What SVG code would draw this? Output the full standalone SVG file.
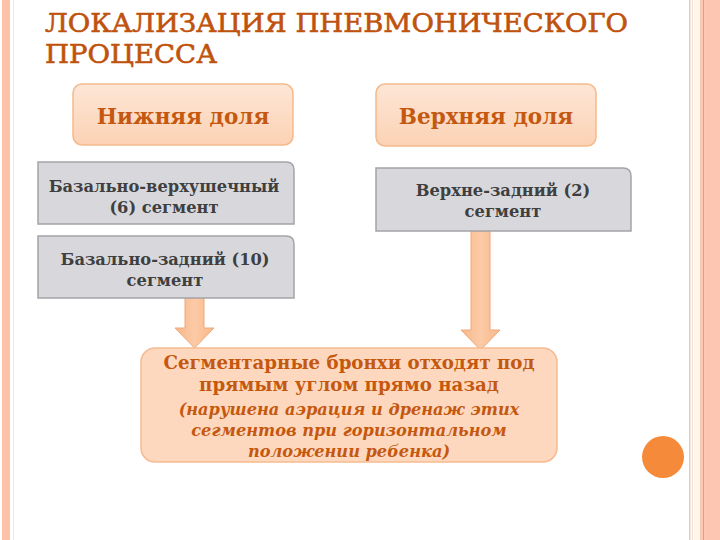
<svg xmlns="http://www.w3.org/2000/svg" width="720" height="540" viewBox="0 0 720 540">
<defs>
<linearGradient id="peach" x1="0" y1="0" x2="0" y2="1">
<stop offset="0" stop-color="#fde6d6"/>
<stop offset="1" stop-color="#fcd2b4"/>
</linearGradient>
<linearGradient id="arrowG" x1="0" y1="0" x2="1" y2="0">
<stop offset="0" stop-color="#f7b88a"/>
<stop offset="0.5" stop-color="#fccaa6"/>
<stop offset="1" stop-color="#f7b88a"/>
</linearGradient>
</defs>
<style>
.title{font-family:"DejaVu Serif","Liberation Serif",serif;font-size:26px;fill:#bf520d;stroke:#bf520d;stroke-width:0.6}
.lobe{fill:url(#peach);stroke:#f5b98c;stroke-width:1.5}
.lobet{font-family:"DejaVu Serif","Liberation Serif",serif;font-weight:bold;font-size:21.5px;fill:#c5580f;text-anchor:middle}
.seg{fill:#d8d8dc;stroke:#a4a4a8;stroke-width:1.5}
.segt{font-family:"DejaVu Serif","Liberation Serif",serif;font-weight:bold;font-size:16.3px;fill:#3f3f3f;text-anchor:middle}
.res{fill:#fdd8bf;stroke:#f6bb90;stroke-width:1.5}
.rest{font-family:"DejaVu Serif","Liberation Serif",serif;font-weight:bold;font-size:18.2px;fill:#c5580f;text-anchor:middle}
.resi{font-family:"DejaVu Serif","Liberation Serif",serif;font-weight:bold;font-style:italic;font-size:16.2px;fill:#c5580f;text-anchor:middle}
.arrow{fill:url(#arrowG);stroke:#f0a878;stroke-width:1}
</style>
<rect width="720" height="540" fill="#ffffff"/>
<rect x="2" y="0" width="8" height="540" fill="#fcc2aa"/>
<rect x="13" y="0" width="1" height="540" fill="#fbe6da"/>
<rect x="689" y="0" width="1.5" height="540" fill="#e8c9b8"/>
<rect x="692" y="0" width="1" height="540" fill="#f2ddd0"/>
<rect x="694" y="0" width="6" height="540" fill="#fff6ea"/>
<rect x="700" y="0" width="3" height="540" fill="#fbc9b3"/>
<rect x="703" y="0" width="1.5" height="540" fill="#f29a78"/>
<rect x="704.5" y="0" width="15.5" height="540" fill="#fdc6b2"/>
<text class="title" x="45" y="32" textLength="583" lengthAdjust="spacingAndGlyphs">ЛОКАЛИЗАЦИЯ ПНЕВМОНИЧЕСКОГО</text>
<text class="title" x="45" y="63" textLength="172" lengthAdjust="spacingAndGlyphs">ПРОЦЕССА</text>
<g id="connectors">
<path class="arrow" d="M185,298 L204,298 L204,328 L214,328 L194.5,348 L175,328 L185,328 Z"/>
<path class="arrow" d="M471,231 L490,231 L490,330 L500,330 L480.5,350 L461,330 L471,330 Z"/>
</g>
<g id="lower-lobe">
<rect class="lobe" x="73" y="84" width="220" height="61" rx="9"/>
<text class="lobet" x="183" y="124">Нижняя доля</text>
</g>
<g id="upper-lobe">
<rect class="lobe" x="376" y="84" width="220" height="62" rx="9"/>
<text class="lobet" x="486" y="124">Верхняя доля</text>
</g>
<g id="seg6">
<path class="seg" d="M38,162 H286 Q294,162 294,170 V224 H38 Z"/>
<text class="segt" x="164" y="192">Базально-верхушечный</text>
<text class="segt" x="164" y="213">(6) сегмент</text>
</g>
<g id="seg10">
<path class="seg" d="M38,236 H286 Q294,236 294,244 V298 H38 Z"/>
<text class="segt" x="165" y="265">Базально-задний (10)</text>
<text class="segt" x="165" y="286">сегмент</text>
</g>
<g id="seg2">
<path class="seg" d="M376,168 H623 Q631,168 631,176 V231 H376 Z"/>
<text class="segt" x="503" y="196">Верхне-задний (2)</text>
<text class="segt" x="503" y="217">сегмент</text>
</g>
<g id="result">
<rect class="res" x="141" y="348" width="416" height="114" rx="14"/>
<text class="rest" x="349" y="369">Сегментарные бронхи отходят под</text>
<text class="rest" x="349" y="391">прямым углом прямо назад</text>
<text class="resi" x="349" y="415">(нарушена аэрация и дренаж этих</text>
<text class="resi" x="349" y="436">сегментов при горизонтальном</text>
<text class="resi" x="349" y="457">положении ребенка)</text>
</g>
<circle cx="663" cy="457" r="21" fill="#f68a3b"/>
</svg>
